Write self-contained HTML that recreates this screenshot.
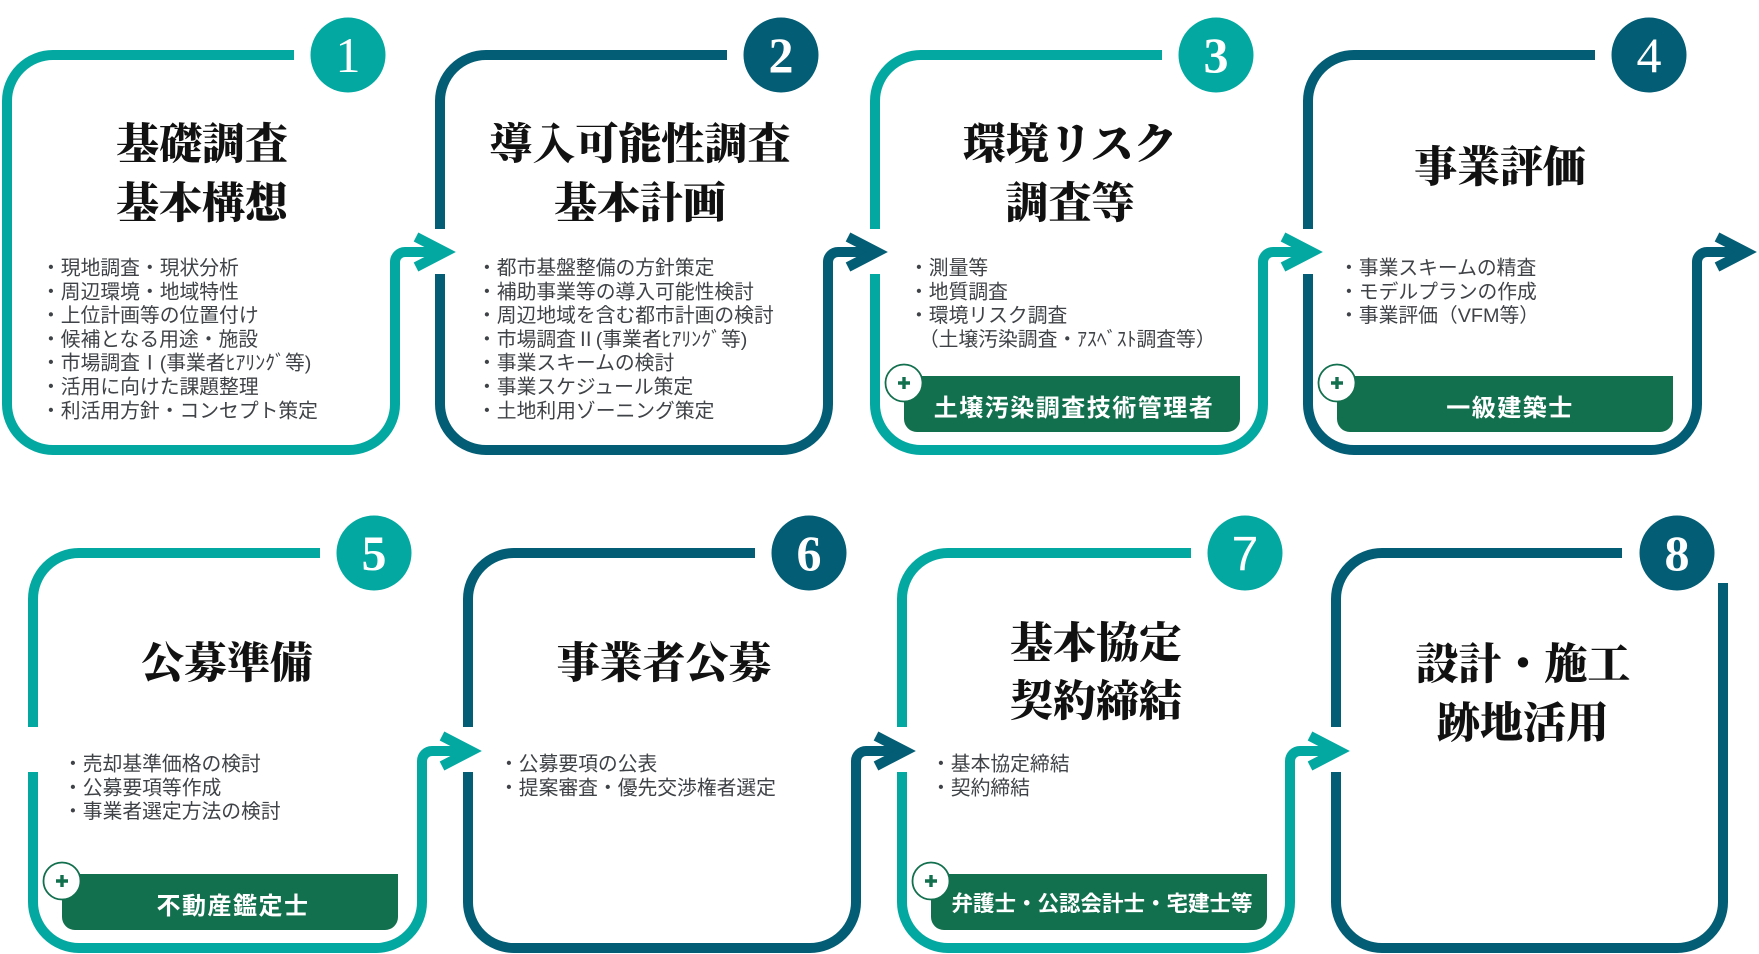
<!DOCTYPE html>
<html lang="ja">
<head>
<meta charset="utf-8">
<style>
  html,body{margin:0;padding:0;background:#fff;}
  body{width:1759px;height:954px;overflow:hidden;}
  svg{display:block;}
  .ttl{font-family:"Liberation Serif","Noto Serif CJK JP","Noto Serif CJK SC",serif;font-weight:900;font-size:43px;fill:#111;}
  .li{font-family:"Liberation Sans","Noto Sans CJK JP",sans-serif;font-size:19.8px;fill:#3f4246;}
  .lab{font-family:"Liberation Sans","Noto Sans CJK JP",sans-serif;font-weight:700;font-size:24px;fill:#fff;letter-spacing:1.5px;}
  .num{font-family:"Liberation Serif",serif;font-size:50px;fill:#fff;}
</style>
</head>
<body>
<svg width="1759" height="954" viewBox="0 0 1759 954" xmlns="http://www.w3.org/2000/svg">
  <rect width="1759" height="954" fill="#fff"/>

  <!-- Box outlines -->
  <g fill="none" stroke-width="10" stroke-linejoin="miter" stroke-miterlimit="10">
    <!-- 1 teal -->
    <path stroke="#03a9a1" d="M294,55 H53 A46,46 0 0 0 7,101 V404 A46,46 0 0 0 53,450 H349 A46,46 0 0 0 395,404 V262 A10,10 0 0 1 405,252 H445"/>
    <polyline stroke="#03a9a1" points="416,237 445,252 416,267"/>
    <!-- 2 blue -->
    <path stroke="#035d74" d="M727,55 H486 A46,46 0 0 0 440,101 V229 M440,274 V404 A46,46 0 0 0 486,450 H782 A46,46 0 0 0 828,404 V262 A10,10 0 0 1 838,252 H877"/>
    <polyline stroke="#035d74" points="848,237 877,252 848,267"/>
    <!-- 3 teal -->
    <path stroke="#03a9a1" d="M1162,55 H921 A46,46 0 0 0 875,101 V229 M875,274 V404 A46,46 0 0 0 921,450 H1217 A46,46 0 0 0 1263,404 V262 A10,10 0 0 1 1273,252 H1312"/>
    <polyline stroke="#03a9a1" points="1283,237 1312,252 1283,267"/>
    <!-- 4 blue -->
    <path stroke="#035d74" d="M1595,55 H1354 A46,46 0 0 0 1308,101 V229 M1308,274 V404 A46,46 0 0 0 1354,450 H1651 A46,46 0 0 0 1697,404 V262 A10,10 0 0 1 1707,252 H1746"/>
    <polyline stroke="#035d74" points="1717,237 1746,252 1717,267"/>
    <!-- 5 teal -->
    <path stroke="#03a9a1" d="M320,553 H79 A46,46 0 0 0 33,599 V727 M33,772 V902 A46,46 0 0 0 79,948 H376 A46,46 0 0 0 422,902 V761 A10,10 0 0 1 432,751 H471"/>
    <polyline stroke="#03a9a1" points="442,736 471,751 442,766"/>
    <!-- 6 blue -->
    <path stroke="#035d74" d="M755,553 H514 A46,46 0 0 0 468,599 V727 M468,772 V902 A46,46 0 0 0 514,948 H810 A46,46 0 0 0 856,902 V761 A10,10 0 0 1 866,751 H905"/>
    <polyline stroke="#035d74" points="876,736 905,751 876,766"/>
    <!-- 7 teal -->
    <path stroke="#03a9a1" d="M1191,553 H948 A46,46 0 0 0 902,599 V727 M902,772 V902 A46,46 0 0 0 948,948 H1244 A46,46 0 0 0 1290,902 V761 A10,10 0 0 1 1300,751 H1339"/>
    <polyline stroke="#03a9a1" points="1310,736 1339,751 1310,766"/>
    <!-- 8 blue -->
    <path stroke="#035d74" d="M1622,553 H1382 A46,46 0 0 0 1336,599 V727 M1336,772 V902 A46,46 0 0 0 1382,948 H1677 A46,46 0 0 0 1723,902 V583"/>
  </g>

  <!-- Number circles -->
  <circle cx="348" cy="55" r="37.5" fill="#03a9a1"/>
  <circle cx="781" cy="55" r="37.5" fill="#035d74"/>
  <circle cx="1216" cy="55" r="37.5" fill="#03a9a1"/>
  <circle cx="1649" cy="55" r="37.5" fill="#035d74"/>
  <circle cx="374" cy="553" r="37.5" fill="#03a9a1"/>
  <circle cx="809" cy="553" r="37.5" fill="#035d74"/>
  <circle cx="1245" cy="553" r="37.5" fill="#03a9a1"/>
  <circle cx="1677" cy="553" r="37.5" fill="#035d74"/>

  <text class="num" x="348" y="72" text-anchor="middle">1</text>
  <text class="num" x="781" y="72" text-anchor="middle" font-weight="700">2</text>
  <text class="num" x="1216" y="72" text-anchor="middle" font-weight="700">3</text>
  <text class="num" x="1649" y="72" text-anchor="middle">4</text>
  <text class="num" x="374" y="570" text-anchor="middle" font-weight="700">5</text>
  <text class="num" x="809" y="570" text-anchor="middle" font-weight="700">6</text>
  <text class="num" x="1245" y="570" text-anchor="middle" style="font-family:'Liberation Sans',sans-serif;font-size:48px">7</text>
  <text class="num" x="1677" y="570" text-anchor="middle" font-weight="700">8</text>

  <!-- Titles -->
  <text class="ttl" x="202" y="159" text-anchor="middle">基礎調査</text>
  <text class="ttl" x="202" y="218" text-anchor="middle">基本構想</text>

  <text class="ttl" x="640" y="159" text-anchor="middle">導入可能性調査</text>
  <text class="ttl" x="640" y="218" text-anchor="middle">基本計画</text>

  <text class="ttl" x="1070" y="159" text-anchor="middle">環境リスク</text>
  <text class="ttl" x="1070" y="218" text-anchor="middle">調査等</text>

  <text class="ttl" x="1500" y="182" text-anchor="middle">事業評価</text>

  <text class="ttl" x="227" y="678" text-anchor="middle">公募準備</text>

  <text class="ttl" x="664" y="678" text-anchor="middle">事業者公募</text>

  <text class="ttl" x="1096" y="658" text-anchor="middle">基本協定</text>
  <text class="ttl" x="1096" y="716" text-anchor="middle">契約締結</text>

  <text class="ttl" x="1523" y="679" text-anchor="middle">設計・施工</text>
  <text class="ttl" x="1523" y="738" text-anchor="middle">跡地活用</text>

  <!-- Lists -->
  <g class="li">
    <text class="li" x="41" y="274.5">・現地調査・現状分析</text>
    <text class="li" x="41" y="298.3">・周辺環境・地域特性</text>
    <text class="li" x="41" y="322.1">・上位計画等の位置付け</text>
    <text class="li" x="41" y="345.9">・候補となる用途・施設</text>
    <text class="li" x="41" y="369.7">・市場調査Ⅰ(事業者ﾋｱﾘﾝｸﾞ等)</text>
    <text class="li" x="41" y="393.5">・活用に向けた課題整理</text>
    <text class="li" x="41" y="417.3">・利活用方針・コンセプト策定</text>

    <text class="li" x="477" y="274.5">・都市基盤整備の方針策定</text>
    <text class="li" x="477" y="298.3">・補助事業等の導入可能性検討</text>
    <text class="li" x="477" y="322.1">・周辺地域を含む都市計画の検討</text>
    <text class="li" x="477" y="345.9">・市場調査Ⅱ(事業者ﾋｱﾘﾝｸﾞ等)</text>
    <text class="li" x="477" y="369.7">・事業スキームの検討</text>
    <text class="li" x="477" y="393.5">・事業スケジュール策定</text>
    <text class="li" x="477" y="417.3">・土地利用ゾーニング策定</text>

    <text class="li" x="909" y="274.5">・測量等</text>
    <text class="li" x="909" y="298.3">・地質調査</text>
    <text class="li" x="909" y="322.1">・環境リスク調査</text>
    <text class="li" x="909" y="345.9">　（土壌汚染調査・ｱｽﾍﾞｽﾄ調査等）</text>

    <text class="li" x="1339" y="274.5">・事業スキームの精査</text>
    <text class="li" x="1339" y="298.3">・モデルプランの作成</text>
    <text class="li" x="1339" y="322.1">・事業評価（VFM等）</text>

    <text class="li" x="63" y="770.5">・売却基準価格の検討</text>
    <text class="li" x="63" y="794.3">・公募要項等作成</text>
    <text class="li" x="63" y="818.1">・事業者選定方法の検討</text>

    <text class="li" x="499" y="770.5">・公募要項の公表</text>
    <text class="li" x="499" y="794.3">・提案審査・優先交渉権者選定</text>

    <text class="li" x="931" y="770.5">・基本協定締結</text>
    <text class="li" x="931" y="794.3">・契約締結</text>
  </g>

  <!-- Green qualification labels -->
  <g fill="#13704f">
    <path d="M904,376 H1240 V419 A13,13 0 0 1 1227,432 H917 A13,13 0 0 1 904,419 Z"/>
    <path d="M1337,376 H1673 V419 A13,13 0 0 1 1660,432 H1350 A13,13 0 0 1 1337,419 Z"/>
    <path d="M62,874 H398 V917 A13,13 0 0 1 385,930 H75 A13,13 0 0 1 62,917 Z"/>
    <path d="M931,874 H1267 V917 A13,13 0 0 1 1254,930 H944 A13,13 0 0 1 931,917 Z"/>
  </g>
  <g fill="#fff" stroke="#13704f" stroke-width="1.8">
    <circle cx="904" cy="383" r="18.5"/>
    <circle cx="1337" cy="383" r="18.5"/>
    <circle cx="62" cy="881" r="18.5"/>
    <circle cx="931" cy="881" r="18.5"/>
  </g>
  <g stroke="#13704f" stroke-width="3.4" fill="none">
    <path d="M898,383 H910 M904,377 V389"/>
    <path d="M1331,383 H1343 M1337,377 V389"/>
    <path d="M56,881 H68 M62,875 V887"/>
    <path d="M925,881 H937 M931,875 V887"/>
  </g>

  <text class="lab" x="1074" y="416" text-anchor="middle">土壌汚染調査技術管理者</text>
  <text class="lab" x="1510" y="416" text-anchor="middle">一級建築士</text>
  <text class="lab" x="233" y="914" text-anchor="middle">不動産鑑定士</text>
  <text class="lab" x="1102" y="911" text-anchor="middle" style="font-size:21.5px;letter-spacing:0">弁護士・公認会計士・宅建士等</text>
</svg>
</body>
</html>
